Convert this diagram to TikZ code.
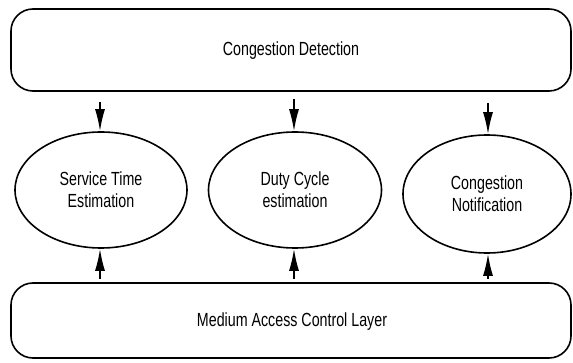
\documentclass[tikz,border=0pt]{standalone}
\usepackage{fontspec}
\setmainfont{Liberation Sans}[FakeStretch=0.75]
\usetikzlibrary{arrows.meta,shapes.geometric}
\tikzset{
  layer/.style={draw, line width=1.6pt, rounded corners=22pt},
  task/.style={draw, ellipse, line width=1.6pt, align=center, inner sep=0pt},
  flow/.style={line width=1.6pt, -{Latex[length=22pt,width=10pt]}},
  lbl/.style={font=\fontsize{19}{22}\selectfont}
}
\begin{document}
\begin{tikzpicture}[x=1pt,y=-1pt]
  \useasboundingbox (0,0) rectangle (573,363);
  % layers
  \draw[layer] (11,9) rectangle (571,91);
  \node[lbl] (cd) at (291,51) {Congestion Detection};
  \draw[layer] (11,283) rectangle (571,358);
  \node[lbl] (mac) at (292,322) {Medium Access Control Layer};
  % estimation blocks
  \node[task, minimum width=172pt, minimum height=116pt, lbl] (st) at (101,190) {Service Time\\Estimation};
  \node[task, minimum width=173pt, minimum height=116pt, lbl] (dc) at (295,190) {Duty Cycle\\estimation};
  \node[task, minimum width=168pt, minimum height=118pt, lbl] (cn) at (487,194) {Congestion\\Notification};
  % arrow origins
  \coordinate (t1) at (100,102);
  \coordinate (t2) at (294,99);
  \coordinate (t3) at (488,103);
  \coordinate (b1) at (100,279);
  \coordinate (b2) at (294,279);
  \coordinate (b3) at (488,279);
  \draw[flow] (t1) -- (t1 |- st.north);
  \draw[flow] (t2) -- (t2 |- dc.north);
  \draw[flow] (t3) -- (t3 |- cn.north);
  \draw[flow] (b1) -- (b1 |- st.south);
  \draw[flow] (b2) -- (b2 |- dc.south);
  \draw[flow] (b3) -- (b3 |- cn.south);
\end{tikzpicture}
\end{document}
